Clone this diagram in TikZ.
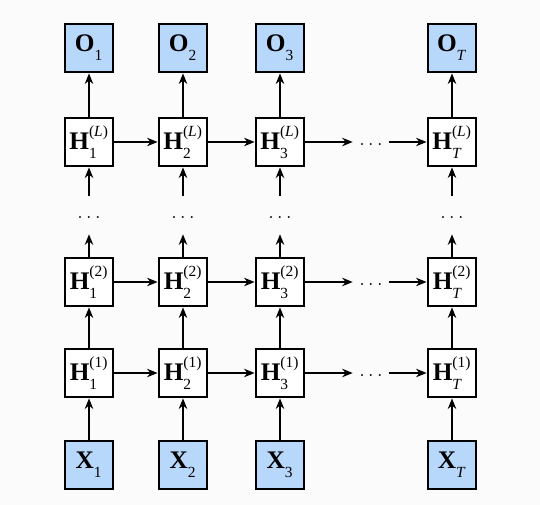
\documentclass[tikz,border=0pt]{standalone}
\usepackage{fontspec}
\setmainfont{Liberation Serif}
\usetikzlibrary{arrows.meta}
\definecolor{inblue}{HTML}{B7D7FB}
\definecolor{bgpaper}{HTML}{FBFBFB}
\newcommand{\lbl}[3]{\textbf{#1}$_{\mbox{\raisebox{-2pt}{\fontsize{11}{11}\selectfont #2}}}^{\mbox{\raisebox{3pt}{\fontsize{11}{11}\selectfont #3}}}$}

\begin{document}
\begin{tikzpicture}[x=0.025cm,y=-0.025cm,
  font=\fontsize{18}{21}\selectfont,
  cell/.style={draw=black,line width=1.4pt,minimum size=1.22cm,inner sep=0pt,fill=white},
  io/.style={cell,fill=inblue},
  vdots/.style={minimum height=0.95cm,inner sep=0pt,text height=1ex,text depth=0pt,font=\fontsize{15}{17}\selectfont},
  hdots/.style={minimum width=0.9cm,inner sep=0pt,text height=1ex,text depth=0pt,font=\fontsize{15}{17}\selectfont},
  link/.style={-{Stealth[length=7.5pt,width=6pt]},line width=1.4pt}]
  \fill[bgpaper] (0,0) rectangle (540,505);
  % one column per time step: 1, 2, 3, T
  \foreach \c/\x/\s in {1/89/1,2/183/2,3/280/3,t/452/{\textit{T}}}{
    \node[io] (x\c) at (\x,465) {\lbl{X}{\s}{}};
    \node[cell] (a\c) at (\x,373) {\lbl{H}{\s}{(1)}};
    \node[cell] (b\c) at (\x,282) {\lbl{H}{\s}{(2)}};
    \node[vdots] (v\c) at (\x,215) {$\ldots$};
    \node[cell] (l\c) at (\x,142) {\lbl{H}{\s}{(\textit{L})}};
    \node[io] (o\c) at (\x,48) {\lbl{O}{\s}{}};
    \draw[link] (x\c) -- (a\c);
    \draw[link] (a\c) -- (b\c);
    \draw[link] (b\c) -- (v\c);
    \draw[link] (v\c) -- (l\c);
    \draw[link] (l\c) -- (o\c);
  }
  % gaps between step 3 and step T
  \node[hdots] (ha) at (371,373) {$\ldots$};
  \node[hdots] (hb) at (371,282) {$\ldots$};
  \node[hdots] (hl) at (371,142) {$\ldots$};
  \foreach \r/\g in {a/ha,b/hb,l/hl}{
    \draw[link] (\r1) -- (\r2);
    \draw[link] (\r2) -- (\r3);
    \draw[link] (\r3) -- (\g);
    \draw[link] (\g) -- (\r t);
  }
\end{tikzpicture}
\end{document}
